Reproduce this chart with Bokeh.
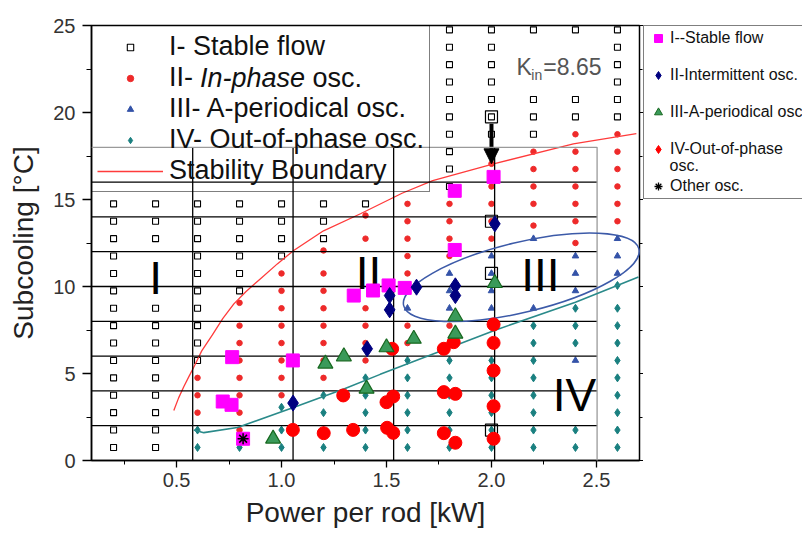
from bokeh.plotting import figure
from bokeh.layouts import row
from bokeh.models import (Legend, LegendItem, LinearAxis, Label, Arrow, NormalHead,
                          FixedTicker, Range1d, NumeralTickFormatter, CustomJSTickFormatter)
from bokeh.embed import file_html
from bokeh.resources import INLINE

FONT = "Liberation Sans"

# ---------------- axes ----------------
x_ticks = [0.5, 1.0, 1.5, 2.0, 2.5]
x_minor = [0.25, 0.75, 1.25, 1.75, 2.25]
y_ticks = [0, 5, 10, 15, 20, 25]
y_minor = [2.5, 7.5, 12.5, 17.5, 22.5]

# ---------------- background map (per column: subcooling values) ----------------
stable_pts = {
    0.2: [0.75, 1.75, 2.75, 3.75, 4.75, 5.75, 6.75, 7.75, 8.75, 9.75, 10.75, 11.75, 12.75, 13.75, 14.75],
    0.4: [0.75, 1.75, 2.75, 3.75, 4.75, 5.75, 6.75, 7.75, 8.75, 9.75, 10.75, 11.75, 12.75, 13.75, 14.75],
    0.6: [5.75, 6.75, 7.75, 8.75, 9.75, 10.75, 11.75, 12.75, 13.75, 14.75],
    0.8: [9.75, 10.75, 11.75, 12.75, 13.75, 14.75],
    1.0: [11.75, 12.75, 13.75, 14.75],
    1.2: [12.75, 13.75, 14.75],
    1.4: [14.75],
    1.8: [15.75, 16.75, 17.75, 18.75, 19.75, 20.75, 21.75, 22.75, 23.75, 24.75],
    2.0: [18.75, 19.75, 20.75, 21.75, 22.75, 23.75, 24.75],
    2.2: [18.75, 19.75, 20.75, 24.75],
    2.4: [19.75, 20.75, 24.75],
    2.6: [19.75, 20.75, 21.75, 22.75, 23.75, 24.75],
}
inphase_pts = {
    0.6: [2.75, 3.75, 4.75],
    0.8: [1.75, 2.75, 3.75, 4.75, 5.75, 6.75, 7.75, 9.06],
    1.0: [3.75, 4.75, 5.75, 6.75, 7.75, 8.75, 9.75, 10.75],
    1.2: [4.75, 5.75, 6.75, 7.75, 8.75, 9.75, 10.75, 12.07],
    1.4: [5.75, 6.75, 7.75, 8.75, 9.75, 10.75, 11.75, 12.75, 14.08],
    1.6: [6.75, 7.75, 9.75, 10.75, 11.75, 12.75, 13.75, 14.75],
    1.8: [6.75, 7.75, 11.75, 12.75, 13.75, 14.75],
    2.0: [12.75, 13.75, 14.75, 15.75, 17.05],
    2.2: [13.5, 14.75, 15.75, 16.75, 17.75],
    2.4: [12.5, 13.75, 14.75, 15.75, 16.75, 17.75, 18.75],
    2.6: [13.75, 14.75, 15.75, 16.75, 17.75, 18.75],
}
aperiodic_pts = {
    1.6: [8.75],
    1.8: [8.75, 9.75, 10.75],
    2.0: [8.75, 9.75, 10.75, 11.75],
    2.2: [8.75, 9.75, 10.75, 11.75, 12.75],
    2.4: [5.75, 9.75, 10.75, 11.75],
    2.6: [10.75, 11.75, 12.75],
}
outphase_pts = {
    0.6: [0.75, 1.75],
    0.8: [0.75],
    1.0: [0.75, 1.75, 3.06],
    1.2: [0.75, 1.75, 2.75, 3.75],
    1.4: [0.75, 1.75, 2.75, 3.75, 4.75],
    1.6: [0.75, 1.75, 2.75, 3.75, 4.75, 5.75],
    1.8: [0.75, 1.75, 2.75, 3.75, 4.75, 5.75],
    2.0: [0.75, 1.75, 2.75, 3.75, 4.75, 5.75, 6.75, 7.75],
    2.2: [0.75, 1.75, 2.75, 3.75, 4.75, 5.75, 6.75, 7.75],
    2.4: [0.75, 1.75, 2.75, 3.75, 4.75, 6.75, 7.75, 8.75],
    2.6: [0.75, 1.75, 2.75, 3.75, 4.75, 5.75, 6.75, 7.75, 8.75, 10.06],
}
boundary_x = [0.487, 0.51, 0.535, 0.56, 0.582, 0.62, 0.67, 0.72, 0.773, 0.83, 0.9, 0.98,
              1.058, 1.2, 1.376, 1.574, 1.72, 2.01, 2.39, 2.69]
boundary_y = [2.87, 3.6, 4.25, 4.85, 5.36, 6.3, 7.2, 8.15, 9.0, 9.7, 10.45, 11.3,
              12.07, 13.2, 14.18, 15.36, 16.09, 17.05, 18.2, 18.78]

# ---------------- overlay experiment ----------------
grid_h_y = [2, 4, 6, 8, 10, 12, 14, 16]
grid_v_x = [0.577, 1.055, 1.534, 2.015]
grid_frame_x = [0.095, 2.503, 2.503]
grid_frame_y = [18.0, 18.0, 0.0]

stable_x = [0.72, 0.762, 0.765, 0.817, 1.054, 1.344, 1.436, 1.51, 1.587, 1.825, 1.825, 2.01]
stable_y = [3.39, 3.2, 5.94, 1.25, 5.75, 9.48, 9.77, 10.06, 9.92, 12.1, 15.5, 16.3]
interm_x = [1.055, 1.408, 1.515, 1.515, 1.643, 1.828, 1.828, 2.016]
interm_y = [3.3, 6.42, 8.66, 9.48, 9.96, 9.48, 10.04, 13.6]
aper_x = [0.96, 1.209, 1.297, 1.405, 1.5, 1.63, 1.828, 1.828, 2.016]
aper_y = [1.25, 5.56, 5.98, 4.12, 6.5, 6.99, 7.28, 8.28, 10.19]
outph_x = [1.054, 1.201, 1.294, 1.341, 1.5, 1.532, 1.503, 1.532, 1.527, 1.773, 1.828,
           1.773, 1.828, 1.773, 1.82, 2.01, 2.01, 2.01, 2.01, 2.01]
outph_y = [1.76, 1.57, 3.74, 1.76, 3.35, 3.68, 1.88, 1.59, 6.42, 3.93, 3.83,
           1.57, 1.02, 6.42, 6.8, 7.82, 6.76, 5.17, 3.12, 1.25]
other_x = [0.817]
other_y = [1.25]
marked_x = [2.0, 2.0, 2.0, 2.0]
marked_y = [19.75, 13.75, 10.75, 1.75]

oop_line_x = [0.582, 0.63, 0.79, 1.06, 1.3, 1.47, 1.61, 2.02, 2.4, 2.7]
oop_line_y = [1.75, 1.6, 1.9, 3.06, 4.12, 4.95, 5.6, 7.5, 9.1, 10.55]
ellipse_center = [2.142, 10.53]


def expand(d):
    xs, ys = [], []
    for col, rows in d.items():
        xs += [col] * len(rows)
        ys += rows
    return xs, ys


p = figure(width=643, height=534, x_range=Range1d(0.095, 2.705), y_range=Range1d(0, 25),
           output_backend="svg", toolbar_location=None,
           min_border_left=91, min_border_right=4, min_border_top=25, min_border_bottom=74)
p.xgrid.visible = False
p.ygrid.visible = False
p.outline_line_color = "black"
p.outline_line_width = 1.5
p.background_fill_color = "white"
p.border_fill_color = "white"

p.xaxis.ticker = FixedTicker(ticks=x_ticks, minor_ticks=x_minor)
p.xaxis.formatter = NumeralTickFormatter(format="0.0")
p.yaxis.ticker = FixedTicker(ticks=y_ticks, minor_ticks=y_minor)
p.xaxis.axis_label = "Power per rod [kW]"
p.yaxis.axis_label = "Subcooling [°C]"
for ax in (p.xaxis[0], p.yaxis[0]):
    ax.axis_line_color = "black"
    ax.axis_line_width = 1.5
    ax.major_tick_in = 0
    ax.minor_tick_in = 0
    ax.major_tick_line_color = "black"
    ax.minor_tick_line_color = "black"
    ax.major_tick_line_width = 1.3
    ax.major_label_text_font = FONT
    ax.major_label_text_font_size = "20px"
    ax.major_label_text_color = "#333333"
    ax.axis_label_text_font = FONT
    ax.axis_label_text_font_size = "28px"
    ax.axis_label_text_font_style = "normal"
    ax.axis_label_text_color = "#222222"
p.xaxis.major_tick_out = 7
p.xaxis.minor_tick_out = 4
p.xaxis.major_label_standoff = 5
p.xaxis.axis_label_standoff = 7
p.yaxis.major_tick_out = 9
p.yaxis.minor_tick_out = 5
p.yaxis.major_label_standoff = 7
p.yaxis.axis_label_standoff = 11

rax = LinearAxis(ticker=FixedTicker(ticks=y_ticks, minor_ticks=y_minor),
                 formatter=CustomJSTickFormatter(code="return ''"),
                 major_label_standoff=0, major_tick_in=0, minor_tick_in=0,
                 major_tick_out=4, minor_tick_out=3, axis_line_color="black")
p.add_layout(rax, "right")

# background map
sx, sy = expand(stable_pts)
r_st = p.scatter(sx, sy, marker="square", size=6, fill_color="white", line_color="black", line_width=1.1)
ix, iy = expand(inphase_pts)
r_in = p.scatter(ix, iy, marker="circle", size=5.5, fill_color="#ee2a2a", line_color="#ee2a2a")
ax_, ay_ = expand(aperiodic_pts)
r_ap = p.scatter(ax_, ay_, marker="triangle", size=6.5, fill_color="#3453a8", line_color="#3453a8")
ox, oy = expand(outphase_pts)
r_op = p.scatter(ox, oy, marker="diamond", size=8, fill_color="#1a8080", line_color="#1a8080")
r_sb = p.line(boundary_x, boundary_y, line_color="#ff3b3b", line_width=1.3)

# overlay experiment grid (drawn above the first legend)
p.segment(x0=[0.095] * len(grid_h_y), y0=grid_h_y, x1=[2.503] * len(grid_h_y), y1=grid_h_y,
          line_color="black", line_width=1.3, level="overlay")
p.segment(x0=grid_v_x, y0=[0] * len(grid_v_x), x1=grid_v_x, y1=[18] * len(grid_v_x),
          line_color="black", line_width=1.3, level="overlay")
p.line(grid_frame_x, grid_frame_y, line_color="#9a9a9a", line_width=1.3, level="overlay")

p.line(oop_line_x, oop_line_y, line_color="#2a8a8a", line_width=1.6, level="overlay")
p.ellipse(x=[ellipse_center[0]], y=[ellipse_center[1]], width=242, height=70, angle=0.237,
          width_units="screen", height_units="screen", fill_alpha=0,
          line_color="#3c5aa8", line_width=1.5, level="overlay")

p.scatter(marked_x, marked_y, marker="square", size=12, fill_alpha=0, line_color="black",
          line_width=1.2, level="overlay")
p.scatter(outph_x, outph_y, marker="circle", size=13, fill_color="#ff0000", line_color="#ff0000", level="overlay")
p.scatter(stable_x, stable_y, marker="square", size=13, fill_color="#ff00ff", line_color="#ff00ff", level="overlay")
p.scatter(interm_x, interm_y, marker="diamond", size=16, fill_color="#000080", line_color="#000080", level="overlay")
p.scatter(aper_x, aper_y, marker="triangle", size=15, fill_color="#3a9a5a", line_color="#17681f",
          line_width=1.2, level="overlay")
p.scatter(other_x, other_y, marker="asterisk", size=11, line_color="black", line_width=1.5, level="overlay")

# region labels
for txt, lx, ly in [("I", 0.4, 10.5), ("II", 1.414, 10.75), ("III", 2.233, 10.66), ("IV", 2.395, 3.74)]:
    p.add_layout(Label(x=lx, y=ly, text=txt, text_font=FONT, text_font_size="46px",
                       text_align="center", text_baseline="middle", text_color="black",
                       background_fill_color="white"))

p.add_layout(Label(x=2.119, y=22.6, text="K", text_font=FONT, text_font_size="23px",
                   text_color="#555555", text_baseline="alphabetic"))
p.add_layout(Label(x=2.19, y=22.13, text="in", text_font=FONT, text_font_size="14px",
                   text_color="#555555", text_baseline="alphabetic"))
p.add_layout(Label(x=2.247, y=22.6, text="=8.65", text_font=FONT, text_font_size="23px",
                   text_color="#555555", text_baseline="alphabetic"))

p.add_layout(Arrow(x_start=2.0, y_start=19.35, x_end=2.0, y_end=17.05, line_width=4,
                   line_color="black",
                   end=NormalHead(size=15, fill_color="black", line_color="black")))

# rest of the second legend entry, with its italic part (legend box is transparent)
p.add_layout(Label(x=0.6117, y=22.0, text="In-phase", text_font=FONT, text_font_size="27px",
                   text_font_style="italic", text_color="#111111", text_baseline="middle"))
p.add_layout(Label(x=1.1474, y=22.0, text="osc.", text_font=FONT, text_font_size="27px",
                   text_color="#111111", text_baseline="middle"))

leg1 = Legend(items=[
    LegendItem(label="I- Stable flow", renderers=[r_st]),
    LegendItem(label="II-", renderers=[r_in]),
    LegendItem(label="III- A-periodical osc.", renderers=[r_ap]),
    LegendItem(label="IV- Out-of-phase osc.", renderers=[r_op]),
    LegendItem(label="Stability Boundary", renderers=[r_sb]),
], location="top_left", margin=0, padding=5, spacing=0, glyph_width=66, glyph_height=16,
    label_height=31, label_standoff=6, label_width=255, label_text_font=FONT,
    label_text_font_size="27px", label_text_color="#111111", border_line_color="black",
    border_line_width=1.5, background_fill_alpha=0.0)
p.add_layout(leg1)

# ---------------- second (experiment) legend, right of the plot ----------------
p2 = figure(width=159, height=534, x_range=Range1d(100, 101), y_range=Range1d(100, 101),
            output_backend="svg", toolbar_location=None, x_axis_location=None,
            y_axis_location=None, min_border_left=0, min_border_right=0,
            min_border_top=25, min_border_bottom=0)
p2.xgrid.visible = False
p2.ygrid.visible = False
p2.outline_line_color = None
p2.border_fill_color = "white"
p2.background_fill_color = "white"

# legend proxies (same data, smaller symbols; the data lie outside this panel's view)
l_st = p2.scatter(stable_x, stable_y, marker="square", size=9, fill_color="#ff00ff", line_color="#ff00ff")
l_in = p2.scatter(interm_x, interm_y, marker="diamond", size=13, fill_color="#000080", line_color="#000080")
l_ap = p2.scatter(aper_x, aper_y, marker="triangle", size=11, fill_color="#3a9a5a", line_color="#17681f")
l_op = p2.scatter(outph_x, outph_y, marker="diamond", size=12, fill_color="#ff0000", line_color="#ff0000")
l_ot = p2.scatter(other_x, other_y, marker="asterisk", size=9, line_color="black", line_width=1.3)

p2.add_layout(Label(x=26, y=295, x_units="screen", y_units="screen", text="osc.",
                    text_font=FONT, text_font_size="16px", text_color="#111111",
                    text_baseline="middle"))

leg2 = Legend(items=[
    LegendItem(label="I--Stable flow", renderers=[l_st]),
    LegendItem(label="II-Intermittent osc.", renderers=[l_in]),
    LegendItem(label="III-A-periodical osc", renderers=[l_ap]),
    LegendItem(label="IV-Out-of-phase", renderers=[l_op]),
    LegendItem(label="Other osc.", renderers=[l_ot]),
], location="top_left", margin=0, padding=2, spacing=17, glyph_width=24, glyph_height=20,
    label_height=20, label_standoff=0, label_text_font=FONT, label_text_font_size="16px",
    label_text_color="#111111", border_line_color="black",
    border_line_width=1.5, background_fill_alpha=0.0)
p2.add_layout(leg2)

layout = row(p, p2, spacing=0)
open("out.html", "w").write(file_html(layout, INLINE))
